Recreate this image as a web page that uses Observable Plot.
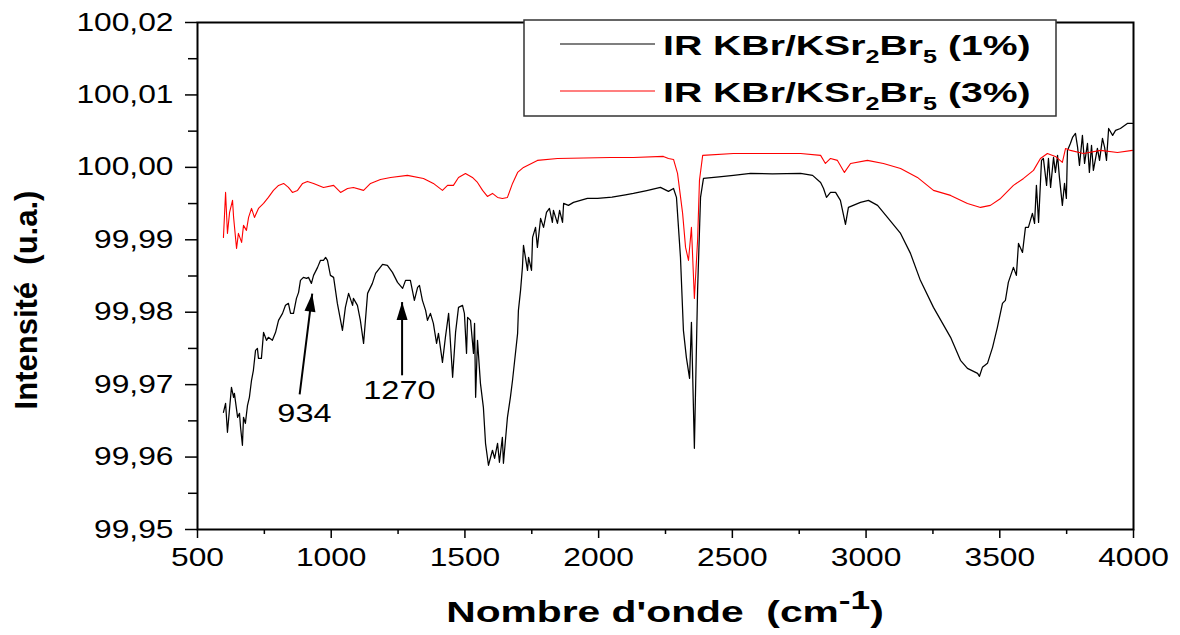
<!DOCTYPE html>
<html><head><meta charset="utf-8">
<script src="https://cdn.jsdelivr.net/npm/d3@7"></script>
<script src="https://cdn.jsdelivr.net/npm/@observablehq/plot@0.6"></script>
<style>body{margin:0;background:#fff;} svg{display:block;}</style>
</head><body><div id="chart"></div>
<script>
const wn1 = [597,605,612,627,635,638,650,657,661,668,672,679,687,694,702,709,717,724,728,739,747,758,765,780,792,803,818,829,840,848,859,870,878,885,896,908,915,926,934,949,960,971,979,986,997,1009,1023,1042,1053,1065,1080,1083,1098,1109,1121,1136,1154,1166,1192,1210,1229,1248,1267,1278,1296,1311,1323,1330,1341,1353,1360,1371,1382,1394,1401,1416,1427,1439,1454,1465,1476,1491,1498,1506,1510,1521,1532,1536,1540,1547,1558,1569,1577,1588,1603,1611,1622,1629,1640,1644,1659,1670,1678,1697,1700,1708,1715,1719,1734,1738,1749,1753,1764,1771,1783,1794,1805,1816,1827,1831,1846,1854,1865,1869,1887,1906,1932,1958,1996,2050,2100,2130,2180,2231,2261,2280,2291,2306,2317,2328,2340,2347,2358,2370,2381,2392,2450,2504,2568,2650,2755,2800,2830,2841,2852,2867,2886,2904,2923,2934,2979,3009,3043,3080,3129,3166,3203,3252,3316,3353,3379,3417,3424,3435,3454,3473,3491,3510,3521,3532,3551,3562,3570,3585,3596,3607,3622,3630,3637,3645,3656,3663,3675,3682,3690,3701,3708,3716,3723,3734,3742,3749,3753,3764,3772,3783,3791,3798,3809,3817,3828,3835,3843,3850,3865,3873,3884,3892,3899,3907,3922,3933,3951,3977,3996];
const int1 = [99.96618,99.96742,99.96342,99.96963,99.96825,99.9688,99.96549,99.96604,99.96411,99.96163,99.96549,99.96466,99.96715,99.96825,99.9706,99.97198,99.97474,99.97501,99.97363,99.97363,99.97722,99.97612,99.97653,99.97612,99.97722,99.97888,99.97984,99.98095,99.98122,99.97984,99.97984,99.98191,99.98274,99.9844,99.98481,99.98467,99.98481,99.98398,99.98509,99.98619,99.98716,99.98716,99.98757,99.98716,99.98509,99.98481,99.98122,99.9775,99.98067,99.9826,99.98095,99.98191,99.98095,99.97888,99.9757,99.9826,99.98398,99.98536,99.9866,99.98647,99.9855,99.98412,99.98329,99.9844,99.9844,99.98164,99.98343,99.98371,99.98164,99.98026,99.97888,99.97984,99.97846,99.9757,99.97708,99.97308,99.97653,99.97984,99.97101,99.97722,99.98067,99.98095,99.97984,99.97432,99.97929,99.97888,99.97432,99.97846,99.96825,99.97612,99.97018,99.96687,99.9619,99.95887,99.96094,99.95983,99.9619,99.95928,99.96273,99.95914,99.96549,99.96825,99.9706,99.97708,99.98026,99.98302,99.98619,99.98923,99.98578,99.98757,99.98578,99.99033,99.99171,99.98895,99.99295,99.99171,99.99378,99.99433,99.9924,99.99406,99.99226,99.99406,99.9924,99.99502,99.99475,99.99516,99.99544,99.99571,99.99571,99.9959,99.9962,99.9964,99.9968,99.99723,99.99668,99.99709,99.99585,99.98757,99.9775,99.97377,99.97087,99.9786,99.96121,99.98302,99.99585,99.99847,99.9987,99.99889,99.99916,99.9991,99.99916,99.99889,99.99792,99.99709,99.99585,99.99654,99.99654,99.99544,99.99212,99.99447,99.99516,99.99544,99.99475,99.99309,99.99088,99.98812,99.9844,99.98067,99.97653,99.97336,99.97225,99.97156,99.97115,99.97239,99.97294,99.97515,99.97791,99.98122,99.98164,99.98412,99.98619,99.98509,99.9895,99.98826,99.99171,99.99171,99.99364,99.99226,99.99751,99.9924,100.00096,100.00123,99.99751,100.00123,99.99723,100.00137,99.9993,100.00165,99.99861,99.99475,99.99778,99.99571,100.00234,100.0033,100.00413,100.00468,100.00275,100.00027,100.00441,100.00054,100.0033,99.9993,100.00303,99.99958,100.00261,100.00096,100.00399,100.00275,100.00096,100.00537,100.00441,100.0051,100.00537,100.00606,100.00606];
const wn3 = [597,605,612,620,631,635,646,653,665,672,683,691,702,713,728,747,765,784,803,822,840,855,874,893,911,934,971,1009,1035,1061,1083,1121,1147,1184,1222,1285,1345,1382,1416,1435,1457,1476,1502,1528,1547,1566,1584,1603,1622,1640,1659,1678,1697,1719,1771,1846,2044,2130,2242,2261,2280,2295,2314,2325,2336,2347,2358,2370,2377,2389,2504,2755,2830,2848,2867,2893,2919,2942,3005,3065,3129,3192,3252,3316,3379,3428,3465,3503,3551,3589,3626,3652,3678,3708,3734,3746,3764,3813,3877,3940,3996];
const int3 = [99.99033,99.99654,99.99088,99.99378,99.99544,99.99309,99.98881,99.99088,99.98964,99.99199,99.9913,99.99309,99.99433,99.99309,99.99433,99.99502,99.99585,99.99682,99.99751,99.99778,99.99723,99.99654,99.99682,99.99778,99.99806,99.99778,99.99723,99.99751,99.99654,99.99709,99.99723,99.99682,99.99778,99.99833,99.99861,99.99889,99.99847,99.99778,99.99682,99.99751,99.99751,99.99861,99.99916,99.99861,99.99792,99.99682,99.99599,99.9964,99.99585,99.99571,99.99585,99.99778,99.9993,99.99999,100.00096,100.00123,100.00137,100.00137,100.00151,100.00123,100.00109,99.99916,99.99364,99.98895,99.98716,99.99171,99.98191,99.98992,99.9982,100.00165,100.00192,100.00192,100.00165,100.00054,100.00123,100.00096,99.9993,100.00054,100.00096,100.00054,99.99985,99.99861,99.99682,99.99613,99.99502,99.99447,99.99475,99.99571,99.99751,99.99847,99.99958,100.00123,100.00192,100.00151,100.00068,100.00261,100.00234,100.00192,100.00234,100.00206,100.00234];

const seriesNames = ["IR KBr/KSr2Br5 (1%)", "IR KBr/KSr2Br5 (3%)"];
const seriesColors = ["#000000", "#ff0000"];

const xTicks = [500,1000,1500,2000,2500,3000,3500,4000];
const xMinor = [750,1250,1750,2250,2750,3250,3750];
const yTicks = [99.95,99.96,99.97,99.98,99.99,100.00,100.01,100.02];
const yMinor = [99.955,99.965,99.975,99.985,99.995,100.005,100.015];

const annLabels = ["934","1270"];
const annTipX = [929,1265];
const annTipY = [99.98256,99.9814];
const annTailX = [882,1265];
const annTailY = [99.96867,99.97129];
const annTextX = [900,1255];
const annTextY = [99.9659,99.96908];

const W = 1180, H = 635, mL = 197, mR = 47, mT = 22, mB = 106;
const xDom = [500,4000], yDom = [99.95,100.02];

const d1 = wn1.map((w,i)=>({wn:w, v:int1[i]}));
const d3s = wn3.map((w,i)=>({wn:w, v:int3[i]}));
const ann = annLabels.map((l,i)=>{
  const pdx = (annTipX[i]-annTailX[i])*(W-mL-mR)/(xDom[1]-xDom[0]);
  const pdy = (annTipY[i]-annTailY[i])*(H-mT-mB)/(yDom[1]-yDom[0]);
  return {label:l, tx:annTipX[i], ty:annTipY[i], sx:annTailX[i], sy:annTailY[i],
    lx:annTextX[i], ly:annTextY[i], angle: Math.atan2(pdx, pdy)*180/Math.PI};
});

const arrowHead = {draw(ctx){ ctx.moveTo(0,0); ctx.lineTo(5.5,18); ctx.lineTo(-5.5,18); ctx.closePath(); }};
const fmtY = d => d.toFixed(2).replace(".", ",");
const fmtX = d => String(d);

const chart = Plot.plot({
  width: W, height: H,
  marginLeft: mL, marginRight: mR, marginTop: mT, marginBottom: mB,
  style: {fontFamily: "'Liberation Sans', Arial, Helvetica, sans-serif", color: "black", background: "white"},
  x: {domain: xDom, axis: null},
  y: {domain: yDom, axis: null},
  marks: [
    Plot.line(d1, {x:"wn", y:"v", stroke: seriesColors[0], strokeWidth: 1.25}),
    Plot.line(d3s, {x:"wn", y:"v", stroke: seriesColors[1], strokeWidth: 1.1}),
    Plot.link(ann, {x1:"sx", y1:"sy", x2:"tx", y2:"ty", stroke:"black", strokeWidth: 2}),
    Plot.dot(ann, {x:"tx", y:"ty", symbol: arrowHead, fill:"black", stroke:"none", rotate:"angle"}),
    Plot.text(ann, {x:"lx", y:"ly", text:"label", fontSize: 25, textAnchor:"middle", lineAnchor:"middle", fill:"black"}),
    Plot.axisY(yTicks, {tickSize: 12, tickPadding: 12, tickFormat: fmtY, fontSize: 25, strokeWidth: 1.5, label: null}),
    Plot.axisY(yMinor, {tickSize: 9, tickFormat: () => "", strokeWidth: 1.5, label: null}),
    Plot.axisX(xTicks, {tickSize: 9, tickPadding: 10, tickFormat: fmtX, fontSize: 25, strokeWidth: 1.5, label: null}),
    Plot.axisX(xMinor, {tickSize: 5, tickFormat: () => "", strokeWidth: 1.5, label: null}),
    Plot.frame({stroke:"black", strokeWidth: 2})
  ]
});
document.getElementById("chart").appendChild(chart);

// Horizontal stretch of text about its anchor (the reference figure is widened)
const svg = d3.select(chart);
function stretchTexts(k, test){
  svg.selectAll("text").each(function(){
    if (!test(this.textContent)) return;
    const bb = this.getBBox();
    const anchor = getComputedStyle(this).textAnchor;
    const ax = anchor === "end" ? bb.x + bb.width : anchor === "start" ? bb.x : bb.x + bb.width / 2;
    const t = this.getAttribute("transform") || "";
    this.setAttribute("transform", `${t} translate(${ax},0) scale(${k},1) translate(${-ax},0)`);
  });
}
const yLabelSet = new Set(yTicks.map(fmtY));
const xLabelSet = new Set(xTicks.map(fmtX));
const annSet = new Set(annLabels);
stretchTexts(1.27, s => yLabelSet.has(s) || xLabelSet.has(s));
stretchTexts(1.3, s => annSet.has(s));

// Legend
const lg = svg.append("g").attr("font-family", "'Liberation Sans', Arial, sans-serif").attr("text-anchor", "start");
lg.append("rect").attr("x", 524).attr("y", 20).attr("width", 532).attr("height", 96)
  .attr("fill", "white").attr("stroke", "#333").attr("stroke-width", 1.5);
seriesNames.forEach((name, i) => {
  const cy = 44 + i*47;
  lg.append("line").attr("x1", 560).attr("x2", 655).attr("y1", cy).attr("y2", cy)
    .attr("stroke", seriesColors[i]).attr("stroke-width", 1.2);
  const m = name.match(/^(IR KBr\/KSr)(\d)(Br)(\d)(.*)$/);
  const t = lg.append("text").attr("transform", `translate(663,${cy+11}) scale(1.4,1)`)
    .attr("text-anchor", "start")
    .attr("font-size", 28).attr("font-weight", "bold").attr("fill", "black").style("white-space", "pre");
  t.append("tspan").text(m[1]);
  t.append("tspan").attr("font-size", 18).attr("dy", 8).text(m[2]);
  t.append("tspan").attr("dy", -8).text(m[3]);
  t.append("tspan").attr("font-size", 18).attr("dy", 8).text(m[4]);
  t.append("tspan").attr("dy", -8).text(m[5]);
});

const xt = svg.append("text").attr("transform", `translate(665,622) scale(1.36,1)`)
  .attr("text-anchor", "middle").attr("font-size", 30).attr("font-weight", "bold")
  .attr("font-family", "'Liberation Sans', Arial, sans-serif").style("white-space", "pre").attr("fill", "black");
xt.append("tspan").text("Nombre d'onde  (cm");
xt.append("tspan").attr("font-size", 26).attr("dy", -13).text("-1");
xt.append("tspan").attr("dy", 13).text(")");

svg.append("text").attr("transform", "translate(37,300) rotate(-90)")
  .attr("text-anchor", "middle").attr("font-size", 31).attr("font-weight", "bold")
  .attr("font-family", "'Liberation Sans', Arial, sans-serif").style("white-space", "pre").attr("fill", "black")
  .text("Intensité  (u.a.)");
</script>
</body></html>
